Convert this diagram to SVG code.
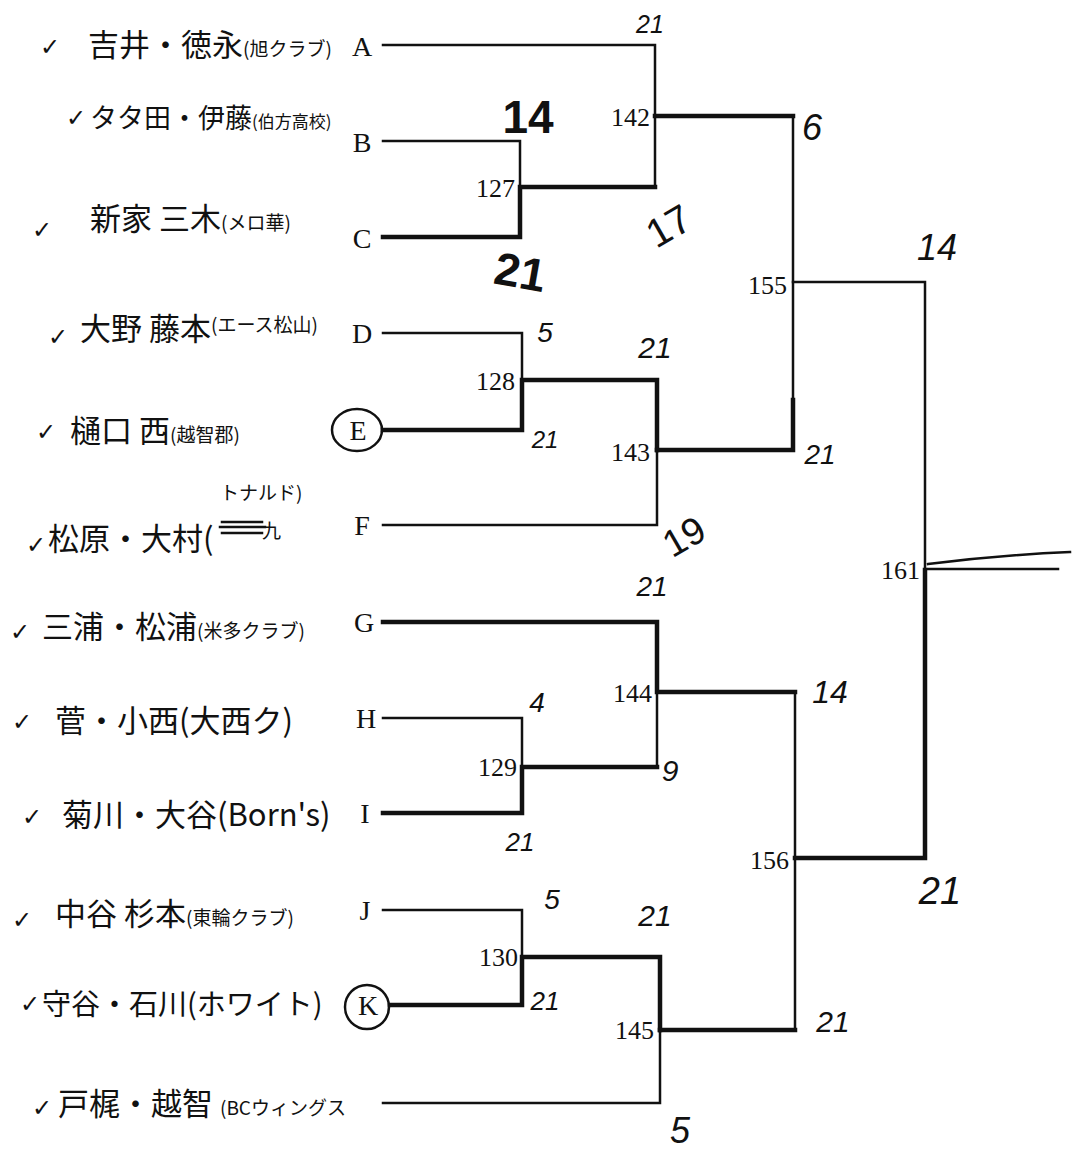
<svg xmlns="http://www.w3.org/2000/svg" width="1075" height="1151" viewBox="0 0 1075 1151">
<style>
.nm{font-family:"Noto Sans CJK JP","Liberation Sans",sans-serif;font-size:31px;fill:#111}
.sm{font-size:19px}
.ck{font-family:"DejaVu Sans",sans-serif;font-size:24px;fill:#111}
.lt{font-family:"Liberation Serif",serif;font-size:28px;fill:#111;text-anchor:middle}
.mn{font-family:"Liberation Serif",serif;font-size:26px;fill:#111;text-anchor:end}
.sc{font-family:"Liberation Sans",sans-serif;font-size:30px;fill:#111;text-anchor:middle;font-style:italic}
.up{font-style:normal}
.bd{font-weight:bold;font-size:46px;font-style:normal}
.ln{fill:none;stroke:#111;stroke-width:2.5;stroke-linecap:square}
.tk{stroke-width:4.5}
.cr{fill:none;stroke:#111;stroke-width:2.5}
</style>
<rect width="1075" height="1151" fill="#fff"/>
<g id="team-A"><text class="ck" x="40" y="55">✓</text><text class="nm" x="88" y="56">吉井・徳永<tspan class="sm">(旭クラブ)</tspan></text><text class="lt" x="362" y="56">A</text></g>
<g id="team-B"><text class="ck" x="66" y="126">✓</text><text class="nm" x="90" y="128" style="font-size:27px">タタ田・伊藤<tspan style="font-size:17px">(伯方高校)</tspan></text><text class="lt" x="362" y="152">B</text></g>
<g id="team-C"><text class="ck" x="32" y="238">✓</text><text class="nm" x="90" y="230">新家 三木<tspan class="sm">(メロ華)</tspan></text><text class="lt" x="362" y="248">C</text></g>
<g id="team-D"><text class="ck" x="48" y="345">✓</text><text class="nm" x="80" y="340">大野 藤本<tspan class="sm" dy="-8">(エース松山)</tspan></text><text class="lt" x="362" y="343">D</text></g>
<g id="team-E"><text class="ck" x="36" y="440">✓</text><text class="nm" x="70" y="442">樋口 西<tspan class="sm">(越智郡)</tspan></text><ellipse class="cr" cx="357" cy="430" rx="25" ry="21"/><text class="lt" x="358" y="440">E</text></g>
<g id="team-F"><text class="ck" x="26" y="553">✓</text><text class="nm" x="48" y="550">松原・大村(</text><text class="nm sm" x="220" y="500">トナルド)</text><path class="ln" d="M222 522h40M220 527h45M222 533h40" stroke-width="2"/><text class="nm sm" x="262" y="538">九</text><text class="lt" x="362" y="535">F</text></g>
<g id="team-G"><text class="ck" x="10" y="640">✓</text><text class="nm" x="42" y="638">三浦・松浦<tspan class="sm">(米多クラブ)</tspan></text><text class="lt" x="364" y="632">G</text></g>
<g id="team-H"><text class="ck" x="12" y="730">✓</text><text class="nm" x="55" y="732">菅・小西(大西ク)</text><text class="lt" x="366" y="728">H</text></g>
<g id="team-I"><text class="ck" x="22" y="825">✓</text><text class="nm" x="62" y="826">菊川・大谷(Born's)</text><text class="lt" x="365" y="823">I</text></g>
<g id="team-J"><text class="ck" x="12" y="928">✓</text><text class="nm" x="55" y="925">中谷 杉本<tspan class="sm">(東輪クラブ)</tspan></text><text class="lt" x="365" y="920">J</text></g>
<g id="team-K"><text class="ck" x="20" y="1012">✓</text><text class="nm" x="42" y="1015" style="font-size:29px">守谷・石川(ホワイト)</text><circle class="cr" cx="367" cy="1007" r="22"/><text class="lt" x="368" y="1015">K</text></g>
<g id="team-L"><text class="ck" x="32" y="1116">✓</text><text class="nm" x="58" y="1115">戸梶・越智 <tspan class="sm">(BCウィングス</tspan></text></g>
<g id="connectors">
<path class="ln" d="M383 45H655V187"/>
<path class="ln" d="M383 141H520V237"/>
<path class="ln tk" d="M383 237H520V187H655"/>
<path class="ln tk" d="M655 116H793"/>
<path class="ln" d="M793 116V450"/>
<path class="ln" d="M793 282H925V858"/>
<path class="ln" d="M383 333H522V430"/>
<path class="ln tk" d="M383 430H522V380H657V450"/>
<path class="ln" d="M383 525H657V450"/>
<path class="ln tk" d="M657 450H793V400"/>
<path class="ln tk" d="M383 622H657V692H795"/>
<path class="ln" d="M657 692V766"/>
<path class="ln" d="M383 718H522V813"/>
<path class="ln tk" d="M383 813H522V767H657"/>
<path class="ln" d="M795 692V1030"/>
<path class="ln tk" d="M795 858H925V570"/>
<path class="ln" d="M383 910H522V1005"/>
<path class="ln tk" d="M390 1005H522V957H660V1030"/>
<path class="ln" d="M383 1103H660V1030"/>
<path class="ln tk" d="M660 1030H795"/>
<path class="ln" d="M928 564Q1000 555 1070 552M928 569H1058"/>
</g>
<g id="match-127"><text class="mn" x="515" y="197">127</text></g>
<g id="match-128"><text class="mn" x="515" y="390">128</text></g>
<g id="match-129"><text class="mn" x="517" y="776">129</text></g>
<g id="match-130"><text class="mn" x="518" y="966">130</text></g>
<g id="match-142"><text class="mn" x="650" y="126">142</text></g>
<g id="match-143"><text class="mn" x="650" y="461">143</text></g>
<g id="match-144"><text class="mn" x="652" y="702">144</text></g>
<g id="match-145"><text class="mn" x="654" y="1039">145</text></g>
<g id="match-155"><text class="mn" x="787" y="294">155</text></g>
<g id="match-156"><text class="mn" x="789" y="869">156</text></g>
<g id="match-161"><text class="mn" x="920" y="579">161</text></g>
<g id="scores">
<text class="sc" x="650" y="33" style="font-size:25px">21</text>
<text class="sc bd" x="528" y="133">14</text>
<text class="sc up" x="668" y="240" style="font-size:40px" transform="rotate(-30 668 225)">17</text>
<text class="sc bd" x="520" y="288" transform="rotate(10 520 273)">21</text>
<text class="sc" x="812" y="140" style="font-size:36px">6</text>
<text class="sc" x="545" y="342" style="font-size:28px">5</text>
<text class="sc" x="655" y="358">21</text>
<text class="sc" x="545" y="448" style="font-size:24px">21</text>
<text class="sc" x="820" y="464" style="font-size:28px">21</text>
<text class="sc up" x="683" y="550" style="font-size:38px" transform="rotate(-30 683 535)">19</text>
<text class="sc" x="937" y="260" style="font-size:36px">14</text>
<text class="sc" x="652" y="596" style="font-size:28px">21</text>
<text class="sc" x="537" y="712" style="font-size:28px">4</text>
<text class="sc" x="830" y="703" style="font-size:32px">14</text>
<text class="sc" x="670" y="781">9</text>
<text class="sc" x="520" y="851" style="font-size:26px">21</text>
<text class="sc" x="552" y="909" style="font-size:28px">5</text>
<text class="sc" x="655" y="926">21</text>
<text class="sc" x="545" y="1010" style="font-size:26px">21</text>
<text class="sc" x="833" y="1032">21</text>
<text class="sc" x="680" y="1143" style="font-size:36px">5</text>
<text class="sc" x="940" y="904" style="font-size:38px">21</text>
</g>
</svg>
